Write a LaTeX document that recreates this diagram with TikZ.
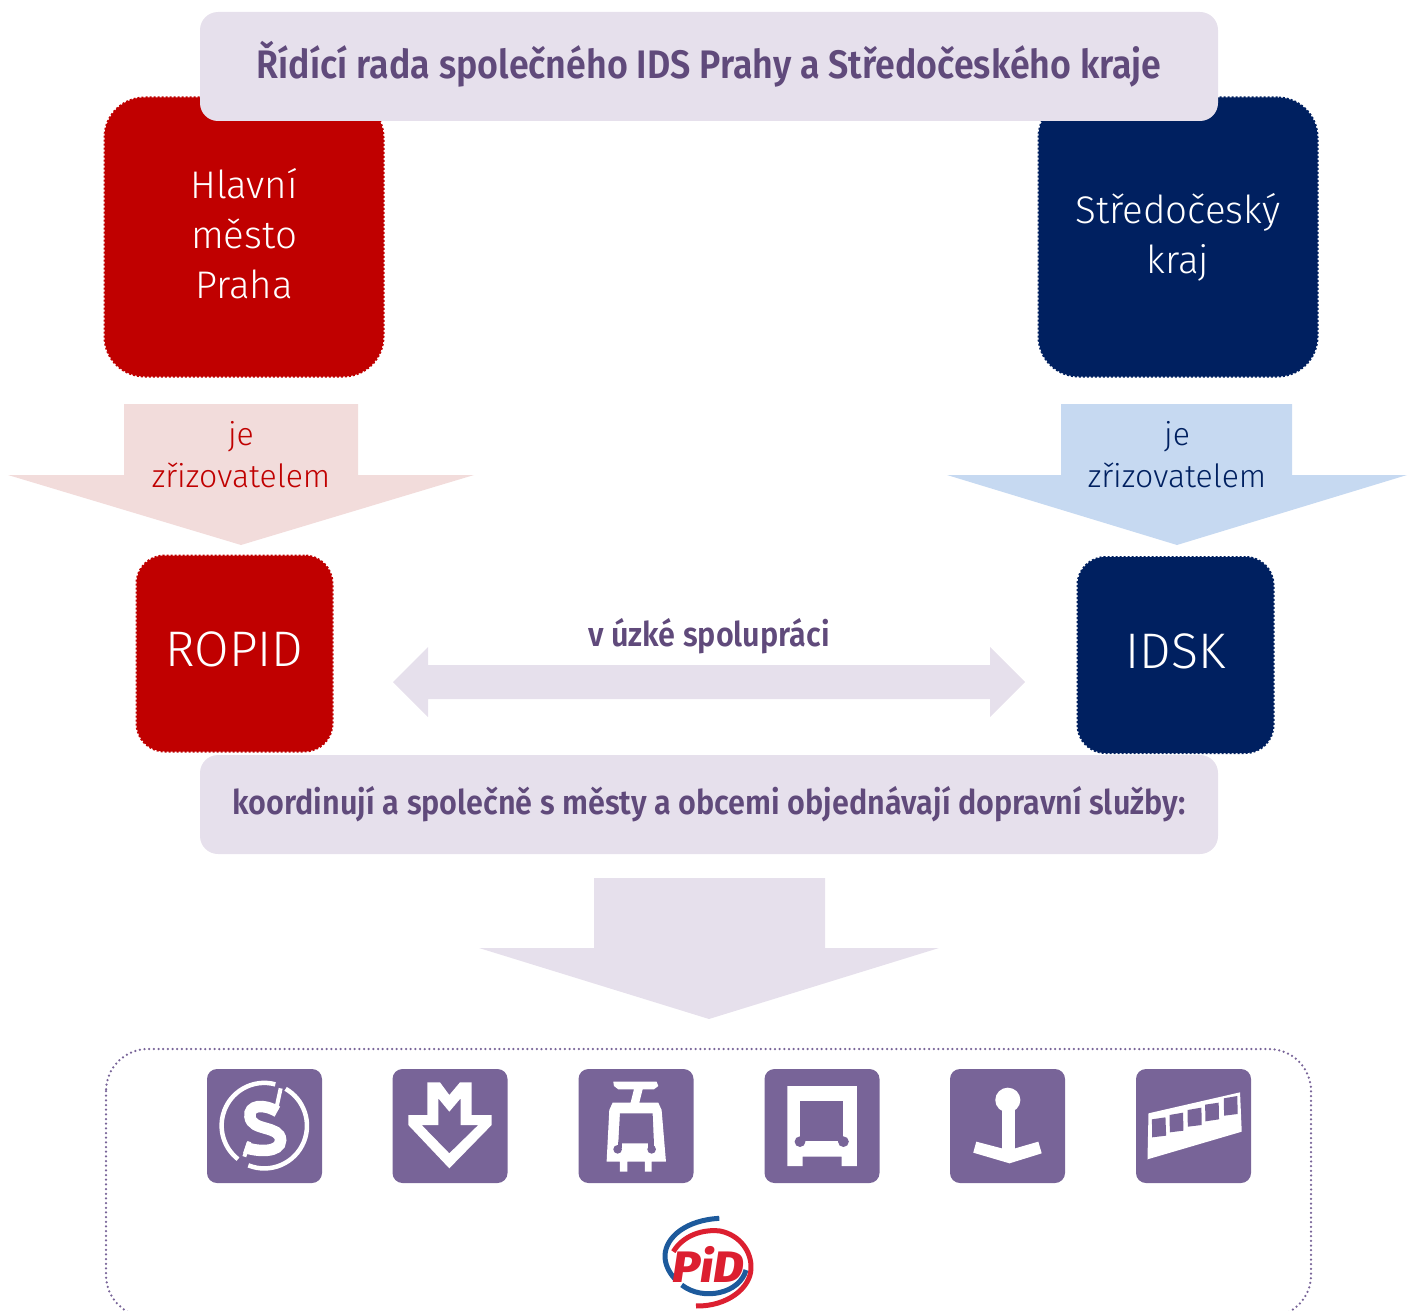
\documentclass[tikz,border=0pt]{standalone}
\usepackage{fontspec}
\usepackage{xcolor}
\usetikzlibrary{positioning}
\setmainfont{Fira Sans Light}
\newfontfamily\boldfont[FakeStretch=0.9]{Fira Sans SemiBold}
\newfontfamily\logofont[FakeStretch=1.08]{Fira Sans ExtraBold Italic}

\definecolor{prahared}{HTML}{C00000}
\definecolor{krajblue}{HTML}{002060}
\definecolor{palered}{HTML}{F2DCDB}
\definecolor{paleblue}{HTML}{C6D9F1}
\definecolor{lavender}{HTML}{E6E0EC}
\definecolor{plum}{HTML}{604A7B}
\definecolor{iconplum}{HTML}{786498}
\definecolor{logored}{HTML}{DC1F30}
\definecolor{logoblue}{HTML}{1D5A9C}

\tikzset{
	edgedots/.style={line width=2pt, dash pattern=on 2pt off 2pt},
	region/.style={draw, edgedots, rounded corners=40pt, minimum width=279pt, minimum height=279pt,
		text=white, align=center, font=\fontsize{38.5}{50}\selectfont},
	office/.style={draw, edgedots, rounded corners=28pt, minimum width=196pt, minimum height=196pt,
		text=white, text depth=8pt, font=\fontsize{50}{60}\selectfont},
	banner/.style={fill=lavender, rounded corners=18pt, minimum width=1018pt, text=plum},
	iconbox/.style={fill=iconplum, rounded corners=10pt, minimum width=115pt, minimum height=114pt},
	founder/.style={align=center, font=\fontsize{32}{42}\selectfont}
}

\begin{document}
\begin{tikzpicture}[x=1pt, y=-1pt]
	\useasboundingbox (0,0) rectangle (1411,1311);
	\clip (0,0) rectangle (1411,1311);

	% regions
	\node[region, fill=prahared, draw=prahared, text depth=8pt] (praha) at (244,237) {Hlavní\\město\\Praha};
	\node[region, fill=krajblue, draw=krajblue] (kraj) at (1178,237) {Středočeský\\kraj};
	\node[banner, minimum height=109pt, text depth=13pt, font=\boldfont\fontsize{39.8}{44}\selectfont] (rada) at (709,66.5)
		{Řídící rada společného IDS Prahy a Středočeského kraje};

	% arrows down
	\fill[palered] (124,404) -- (358,404) -- (358,475) -- (474,475) -- (241,545) -- (8,475) -- (124,475) -- cycle;
	\fill[paleblue] (1061,404) -- (1292,404) -- (1292,475) -- (1407,475) -- (1177,545) -- (947,475) -- (1061,475) -- cycle;
	\node[founder, text=prahared] (zrizRopid) at (241,455) {je\\zřizovatelem};
	\node[founder, text=krajblue] (zrizIdsk) at (1177,455) {je\\zřizovatelem};

	% offices
	\node[office, fill=prahared, draw=prahared] (ropid) at (234.5,653.5) {ROPID};
	\node[office, fill=krajblue, draw=krajblue] (idsk) at (1175.5,655) {IDSK};

	\fill[lavender] (393,682) -- (428,647) -- (428,665) -- (990,665) -- (990,647) -- (1025,682) -- (990,717) -- (990,699) -- (428,699) -- (428,717) -- cycle;
	\node[text=plum, font=\boldfont\fontsize{34}{38}\selectfont] (spoluprace) at (709,636) {v úzké spolupráci};

	\node[banner, minimum height=99pt, text depth=9pt, font=\boldfont\fontsize{34}{38}\selectfont] (sluzby) at (709,804.5)
		{koordinují a společně s městy a obcemi objednávají dopravní služby:};

	\fill[lavender] (594,878) -- (825,878) -- (825,948) -- (939,948) -- (709,1019) -- (479,948) -- (594,948) -- cycle;

	% frame
	\draw[iconplum, line width=2.5pt, line cap=round, dash pattern=on 0pt off 4.67pt, rounded corners=42pt] (106,1049) rectangle (1311,1317);

	% icons
	\node[iconbox] (vlak) at (264.5,1126) {};
	\node[iconbox] (metro) at (450,1126) {};
	\node[iconbox] (tram) at (636,1126) {};
	\node[iconbox] (bus) at (822,1126) {};
	\node[iconbox] (lanovka) at (1007.5,1126) {};
	\node[iconbox] (privoz) at (1193.5,1126) {};

	\begin{scope}[shift={(190,1060)}, x=0.3333pt, y=-0.3333pt]
		% S
		\draw[white, line width=4.5pt] (256,73) arc (-75:-232:128);
		\draw[white, line width=4.5pt] (175,316) arc (-248:-420:128);
		\draw[white, line width=4pt] (272,85) -- (258,150);
		\draw[white, line width=4pt] (178,245) -- (163,290);
		\draw[white, line width=11.5pt] (262,155) .. controls (220,130) and (175,135) .. (180,170) .. controls (185,215) and (270,195) .. (272,240) .. controls (272,280) and (200,275) .. (165,262);
		% M
		\fill[white, even odd rule] (712,67) -- (750,67) -- (778,105) -- (810,67) -- (845,67) -- (845,165) -- (905,165) -- (905,195) -- (778,325) -- (655,195) -- (655,165) -- (712,165) -- cycle
			(745,115) -- (745,195) -- (695,195) -- (778,280) -- (865,195) -- (812,195) -- (812,115) -- (778,155) -- cycle;
		% tram
		\fill[white] (1270,65) -- (1400,65) -- (1405,78) -- (1392,88) -- (1358,88) -- (1348,128) -- (1405,128) -- (1415,150) -- (1428,305) -- (1385,305) -- (1385,335) -- (1365,335) -- (1365,305) -- (1312,305) -- (1312,335) -- (1290,335) -- (1290,305) -- (1250,305) -- (1258,150) -- (1268,128) -- (1322,128) -- (1332,88) -- (1285,88) -- (1272,78) -- cycle;
		\fill[iconplum] (1290,160) -- (1388,160) -- (1392,250) -- (1285,250) -- cycle;
		\fill[iconplum] (1283,268) circle (13);
		\fill[iconplum] (1385,268) circle (13);
		\fill[iconplum] (1285,245) rectangle (1295,265);
		\fill[iconplum] (1375,245) rectangle (1392,265);
	\end{scope}

	\begin{scope}[shift={(740,1060)}, x=0.339pt, y=-0.3333pt]
		% bus
		\fill[white] (140,78) -- (345,78) -- (345,318) -- (300,318) -- (300,290) -- (185,290) -- (185,318) -- (140,318) -- cycle;
		\fill[iconplum] (178,122) rectangle (305,243);
		\fill[iconplum] (177,245) circle [x radius=16, y radius=16];
		\fill[iconplum] (305,245) circle [x radius=16, y radius=16];
		% lanovka
		\fill[white] (790,120) circle [x radius=37, y radius=37];
		\fill[white] (772,150) rectangle (812,290);
		\fill[white] (697,245) -- (772,265) -- (812,265) -- (880,245) -- (890,280) -- (795,310) -- (688,278) -- cycle;
		% privoz
		\fill[white] (1205,160) -- (1475,97) -- (1480,215) -- (1202,298) -- cycle;
		\fill[iconplum] (1215,178) -- (1255,172) -- (1257,227) -- (1216,232) -- cycle;
		\fill[iconplum] (1267,165) -- (1307,158) -- (1308,212) -- (1268,217) -- cycle;
		\fill[iconplum] (1320,150) -- (1361,143) -- (1362,195) -- (1321,200) -- cycle;
		\fill[iconplum] (1372,134) -- (1412,128) -- (1413,178) -- (1373,184) -- cycle;
		\fill[iconplum] (1427,115) -- (1467,108) -- (1468,162) -- (1428,167) -- cycle;
	\end{scope}

	% logo
	\begin{scope}[shift={(640,1205)}, x=0.3333pt, y=-0.3333pt]
		\draw[logoblue, line width=5pt] (238,40) .. controls (140,45) and (78,95) .. (75,150) .. controls (74,175) and (85,200) .. (105,222);
		\draw[logoblue, line width=5pt] (125,240) .. controls (190,290) and (300,265) .. (318,195);
		\draw[logored, line width=5pt] (100,140) .. controls (130,90) and (190,72) .. (240,78) .. controls (300,90) and (335,140) .. (333,190) .. controls (332,250) and (260,305) .. (168,303);
	\end{scope}
	\node[text=logored, font=\logofont\fontsize{44}{44}\selectfont] (pid) at (708,1264) {PiD};
\end{tikzpicture}
\end{document}
